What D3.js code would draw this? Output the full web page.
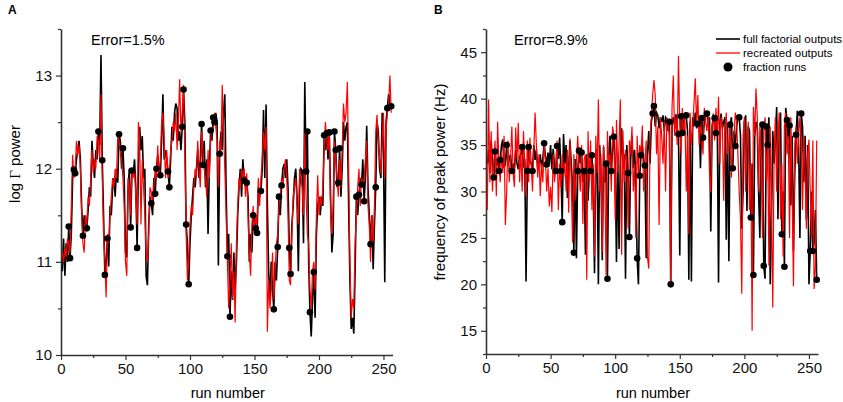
<!DOCTYPE html>
<html>
<head>
<meta charset="utf-8">
<script src="https://cdn.jsdelivr.net/npm/d3@7"></script>
<style>
  body { margin: 0; background: #fff; }
  text { font-family: "Liberation Sans", Arial, sans-serif; }
</style>
</head>
<body>
<div id="content"></div>
<script>
// Panel A: log Gamma power, full factorial (black) and recreated (red), runs 1..256.
var fullA = [
  10.90, 11.25, 10.85, 11.20, 11.00, 11.38, 11.04, 11.30, 11.90, 11.99, 11.95, 12.10, 12.20, 12.30, 12.10, 11.60,
  11.28, 11.50, 11.40, 11.36, 11.55, 11.80, 11.70, 12.30, 12.05, 11.90, 12.20, 12.10, 12.40, 12.25, 13.22, 12.09,
  11.50, 10.86, 11.00, 11.25, 10.95, 11.60, 11.50, 11.80, 11.90, 11.70, 12.00, 11.85, 12.37, 12.30, 12.00, 12.22,
  11.90, 11.10, 11.05, 11.80, 12.00, 11.37, 11.98, 11.95, 12.10, 11.80, 11.15, 12.00, 12.45, 12.20, 12.35, 11.90,
  12.00, 10.85, 10.75, 11.40, 11.70, 11.63, 11.50, 11.90, 11.73, 12.00, 12.15, 12.00, 11.93, 12.30, 12.80, 12.10,
  12.20, 12.10, 11.97, 11.80, 12.10, 12.45, 12.30, 12.60, 12.70, 12.65, 12.30, 12.40, 12.20, 12.45, 12.85, 12.50,
  11.40, 11.20, 10.76, 11.20, 11.50, 11.70, 11.90, 11.80, 12.00, 12.20, 11.90, 12.10, 12.48, 12.04, 12.30, 11.80,
  12.10, 11.30, 12.00, 12.41, 12.30, 12.55, 12.50, 12.60, 12.50, 10.96, 12.16, 12.40, 12.20, 12.60, 12.80, 11.80,
  11.06, 11.30, 10.41, 10.90, 10.59, 11.10, 10.70, 11.00, 11.50, 11.80, 12.00, 11.70, 12.10, 11.87, 11.90, 11.85,
  11.70, 11.00, 11.30, 11.10, 11.50, 11.45, 11.36, 11.31, 11.80, 11.70, 11.76, 12.00, 12.63, 11.90, 12.69, 11.60,
  10.90, 10.60, 11.00, 10.70, 10.49, 11.00, 10.80, 11.16, 11.70, 11.50, 11.82, 12.00, 12.05, 11.90, 12.10, 11.80,
  11.15, 10.87, 11.40, 11.60, 11.90, 12.00, 11.70, 10.90, 11.80, 12.00, 11.98, 11.20, 12.93, 11.97, 12.40, 11.00,
  10.46, 10.20, 10.60, 10.89, 10.40, 11.30, 11.60, 11.70, 11.50, 11.70, 11.60, 12.36, 12.20, 12.38, 12.10, 12.39,
  11.70, 11.10, 11.30, 12.40, 12.20, 11.80, 11.85, 12.22, 11.70, 12.00, 12.50, 12.30, 12.45, 12.50, 11.60, 10.80,
  10.28, 10.40, 10.23, 10.90, 11.70, 11.50, 11.72, 11.90, 11.83, 12.10, 11.65, 11.90, 12.46, 11.80, 11.50, 11.19,
  11.50, 10.92, 11.40, 11.80, 12.50, 12.40, 12.00, 11.90, 12.60, 12.20, 10.78, 12.50, 12.65, 12.80, 12.70, 12.67
];
var recA = [
  11.10, 11.00, 11.15, 11.05, 11.25, 11.20, 11.10, 11.60, 12.15, 11.90, 12.00, 12.30, 12.15, 12.25, 12.00, 11.50,
  11.20, 11.10, 11.50, 11.40, 11.70, 11.60, 11.90, 12.20, 11.95, 12.10, 12.00, 12.35, 12.30, 12.10, 12.80, 11.90,
  11.30, 11.00, 10.62, 11.30, 11.20, 11.50, 11.70, 11.90, 11.80, 12.00, 11.90, 12.35, 12.30, 12.20, 12.10, 11.90,
  11.60, 11.00, 10.85, 11.90, 11.80, 11.50, 12.00, 11.90, 12.00, 11.70, 11.40, 12.50, 12.30, 11.40, 12.10, 11.80,
  11.50, 11.10, 11.00, 11.30, 11.80, 11.75, 11.60, 11.80, 12.00, 11.90, 12.25, 11.90, 12.10, 12.50, 12.60, 12.30,
  11.90, 12.20, 11.90, 11.95, 12.20, 12.30, 12.50, 12.40, 12.60, 12.20, 12.50, 12.96, 12.40, 12.60, 12.90, 12.20,
  11.30, 10.80, 11.00, 11.40, 11.60, 11.50, 11.80, 12.00, 11.90, 12.30, 12.00, 11.80, 12.40, 12.20, 12.00, 11.90,
  11.70, 12.20, 11.90, 12.30, 12.45, 12.40, 12.60, 12.45, 12.30, 11.80, 12.30, 12.20, 12.90, 12.40, 12.00, 11.50,
  11.00, 10.50, 10.80, 11.20, 10.60, 10.90, 10.35, 11.20, 11.60, 11.90, 11.80, 12.00, 11.90, 12.00, 11.70, 11.95,
  11.50, 11.10, 10.85, 11.40, 11.60, 11.30, 11.50, 11.40, 11.90, 11.60, 11.90, 12.10, 12.40, 12.20, 12.45, 10.25,
  10.80, 10.50, 10.70, 11.10, 10.60, 10.90, 11.20, 11.30, 11.60, 11.70, 11.90, 11.80, 12.00, 12.10, 11.90, 11.50,
  10.80, 10.75, 11.30, 11.70, 11.80, 11.90, 11.60, 11.40, 12.00, 11.90, 11.80, 11.50, 12.40, 11.70, 11.30, 11.20,
  10.70, 10.50, 10.90, 11.00, 10.70, 11.50, 11.93, 11.50, 11.70, 11.60, 11.80, 12.20, 12.50, 12.30, 12.20, 12.40,
  11.50, 11.30, 11.60, 12.30, 12.10, 11.90, 11.70, 12.10, 11.80, 12.20, 12.70, 12.50, 12.60, 12.93, 12.00, 11.00,
  10.40, 10.60, 10.50, 11.20, 11.50, 11.80, 12.00, 11.60, 11.90, 11.80, 11.90, 12.10, 12.30, 11.60, 11.40, 11.00,
  11.50, 11.20, 11.60, 12.40, 12.58, 12.30, 12.10, 11.95, 12.30, 12.60, 11.90, 12.40, 12.60, 12.70, 13.00, 12.60
];
var fractionRunsA = [6, 7, 10, 11, 17, 20, 29, 32, 34, 36, 45, 48, 54, 55, 59, 70, 73, 74, 77, 83, 84, 94, 95,
  97, 99, 109, 110, 116, 118, 119, 123, 129, 131, 142, 144, 149, 151, 152, 155, 165, 168, 169, 171, 177, 178,
  190, 191, 193, 196, 204, 206, 208, 212, 213, 215, 216, 229, 231, 233, 235, 240, 244, 253, 256];

// Panel B: frequency of peak power (Hz).
var fullB = [
  33.0, 34.5, 32.0, 35.5, 33.2, 31.5, 34.3, 32.8, 33.5, 32.2, 33.4, 35.0, 35.6, 32.5, 33.0, 35.0,
  32.8, 33.5, 34.0, 32.2, 33.0, 32.5, 34.5, 33.0, 32.4, 33.8, 34.0, 34.8, 32.6, 33.5, 20.3, 32.2,
  34.8, 33.2, 33.0, 32.2, 35.0, 33.4, 34.5, 32.5, 33.0, 34.0, 32.6, 33.5, 35.2, 33.8, 32.9, 34.2,
  33.0, 35.0, 32.4, 34.6, 32.8, 32.2, 34.9, 33.5, 35.8, 32.2, 26.7, 36.2, 33.0, 35.0, 29.3, 32.5,
  35.5, 33.0, 30.5, 23.4, 33.5, 22.8, 32.2, 34.4, 33.0, 34.2, 31.0, 32.2, 23.2, 34.0, 29.0, 32.5,
  32.2, 33.9, 30.0, 21.2, 34.5, 33.0, 20.0, 35.0, 32.0, 22.6, 34.8, 31.0, 33.0, 20.6, 33.5, 36.0,
  32.2, 34.5, 35.9, 33.0, 22.4, 34.0, 23.8, 33.5, 36.8, 32.5, 34.0, 20.6, 35.0, 32.0, 25.1, 33.5,
  36.0, 32.5, 34.5, 31.0, 22.8, 20.0, 31.7, 33.9, 35.0, 33.5, 32.8, 22.8, 34.0, 36.5, 33.0, 37.5,
  38.4, 39.2, 37.0, 38.5, 38.2, 36.8, 38.0, 37.5, 38.2, 36.5, 38.0, 37.8, 36.5, 37.5, 20.0, 37.0,
  38.0, 37.2, 38.3, 36.8, 36.2, 23.1, 38.1, 36.3, 37.6, 38.0, 38.2, 36.5, 20.5, 37.5, 20.3, 38.0,
  37.0, 38.5, 36.8, 37.3, 38.0, 32.5, 37.9, 35.8, 37.5, 38.2, 38.4, 37.0, 38.0, 25.7, 37.0, 38.2,
  37.9, 36.3, 38.0, 20.2, 37.5, 38.4, 36.8, 37.5, 38.0, 24.8, 37.0, 22.5, 37.2, 38.0, 32.5, 36.5,
  34.9, 37.0, 38.0, 38.0, 36.0, 26.0, 30.0, 37.5, 38.2, 27.9, 37.0, 36.5, 27.2, 33.0, 21.0, 36.0,
  37.5, 37.0, 30.0, 25.0, 36.5, 37.2, 22.0, 20.6, 37.0, 35.0, 38.0, 20.0, 27.0, 36.5, 33.0, 35.5,
  39.1, 27.0, 37.0, 38.5, 25.4, 30.0, 21.9, 39.0, 37.7, 35.5, 37.1, 28.5, 36.0, 23.6, 32.0, 36.1,
  38.7, 35.0, 25.0, 38.4, 37.0, 31.0, 36.0, 27.0, 35.0, 20.0, 23.6, 30.0, 23.6, 24.5, 28.0, 20.5
];
var recB = [
  28.0, 39.9, 31.0, 36.5, 30.0, 33.0, 35.5, 29.5, 37.5, 33.0, 31.0, 34.0, 32.0, 36.0, 26.4, 30.0,
  35.5, 31.0, 33.5, 37.0, 32.0, 30.5, 36.9, 33.5, 37.4, 31.0, 34.5, 30.0, 36.5, 33.0, 29.5, 35.5,
  31.0, 35.8, 33.0, 30.0, 34.5, 38.5, 35.0, 31.5, 34.0, 29.5, 33.0, 31.0, 35.0, 33.5, 30.0, 32.5,
  28.4, 30.5, 27.8, 34.0, 31.0, 32.5, 35.5, 28.0, 33.0, 30.5, 34.0, 31.5, 33.2, 30.0, 34.5, 27.7,
  35.7, 31.0, 24.5, 34.0, 29.0, 33.0, 36.0, 32.5, 30.0, 35.0, 26.5, 33.5, 34.0, 20.5, 36.5, 31.0,
  35.5, 28.0, 33.0, 23.0, 36.0, 32.0, 39.9, 30.0, 34.0, 23.4, 35.0, 31.0, 21.0, 36.5, 33.0, 34.0,
  30.0, 37.0, 36.0, 27.0, 37.7, 32.0, 35.0, 39.9, 23.2, 36.6, 31.0, 34.5, 33.0, 26.0, 35.5, 34.0,
  37.0, 30.0, 33.0, 25.0, 36.0, 32.0, 35.0, 34.0, 37.1, 30.0, 33.0, 35.5, 22.9, 21.7, 36.0, 38.0,
  40.4, 42.0, 40.4, 34.0, 37.0, 26.4, 38.0, 36.0, 33.0, 37.5, 30.0, 38.0, 37.0, 36.0, 20.0, 39.0,
  42.5, 36.0, 38.0, 35.0, 44.6, 37.0, 34.0, 39.0, 36.0, 38.0, 30.0, 36.0, 25.4, 38.5, 35.0, 37.0,
  39.5, 42.2, 37.0, 40.4, 35.0, 38.0, 36.0, 34.0, 39.0, 37.5, 36.5, 38.5, 32.0, 29.9, 37.0, 38.0,
  35.5, 39.0, 36.0, 40.2, 33.0, 38.0, 37.0, 29.0, 36.5, 38.5, 34.0, 35.0, 37.0, 31.5, 35.0, 36.0,
  38.5, 37.5, 34.0, 30.0, 27.0, 19.0, 36.0, 38.0, 30.0, 35.0, 37.5, 28.0, 33.0, 15.0, 39.1, 36.0,
  41.1, 38.0, 30.0, 37.0, 33.0, 25.0, 36.5, 38.0, 31.0, 35.0, 22.0, 37.0, 28.0, 17.5, 34.0, 38.0,
  30.0, 36.0, 38.5, 27.0, 33.0, 23.0, 37.0, 38.5, 34.0, 36.0, 25.0, 38.0, 30.0, 19.8, 35.0, 37.0,
  33.0, 36.0, 38.0, 35.8, 28.0, 36.0, 32.0, 26.0, 34.0, 35.6, 30.0, 25.0, 35.5, 19.5, 22.0, 35.5
];
var fractionRunsB = [6, 7, 10, 11, 16, 20, 28, 32, 33, 36, 45, 47, 54, 55, 58, 59, 68, 71, 72, 74, 76, 81, 82,
  93, 94, 97, 99, 110, 111, 117, 119, 120, 123, 129, 130, 142, 143, 149, 151, 152, 155, 164, 167, 168, 171,
  177, 178, 189, 191, 193, 196, 205, 207, 214, 215, 217, 218, 229, 231, 233, 235, 240, 244, 251, 253, 256];

// Tick labels.
var xTicks = [0, 50, 100, 150, 200, 250];
var xMinor = [25, 75, 125, 175, 225];
var yTicksA = [10, 11, 12, 13];
var yMinorA = [10.5, 11.5, 12.5, 13.5];
var yTicksB = [15, 20, 25, 30, 35, 40, 45];
var yMinorB = [12.5, 17.5, 22.5, 27.5, 32.5, 37.5, 42.5, 47.5];
var legendLabels = ['full factorial outputs', 'recreated outputs', 'fraction runs'];

var svg = d3.select('#content')
              .append('svg')
              .attr('width', 843)
              .attr('height', 402);

var axisColor = '#333';

function drawPanel(p) {
  var x = d3.scaleLinear().domain([0, 257]).range([p.left, p.right]);
  var y = d3.scaleLinear().domain(p.yDomain).range([p.bottom, 29]);

  // Axes, major then minor ticks.
  var gx = svg.append('g').attr('transform', 'translate(0,' + p.bottom + ')')
      .call(d3.axisBottom(x).tickValues(xTicks).tickSize(5).tickPadding(3).tickSizeOuter(0));
  var gxm = svg.append('g').attr('transform', 'translate(0,' + p.bottom + ')')
      .call(d3.axisBottom(x).tickValues(xMinor).tickSize(3).tickFormat(''));
  var gy = svg.append('g').attr('transform', 'translate(' + p.left + ',0)')
      .call(d3.axisLeft(y).tickValues(p.yTicks).tickFormat(d3.format('d'))
                .tickSize(5).tickPadding(4).tickSizeOuter(0));
  var gym = svg.append('g').attr('transform', 'translate(' + p.left + ',0)')
      .call(d3.axisLeft(y).tickValues(p.yMinor).tickSize(3).tickFormat(''));
  gxm.select('.domain').remove();
  gym.select('.domain').remove();
  [gx, gxm, gy, gym].forEach(function(g) {
    g.select('.domain').attr('stroke', axisColor).attr('stroke-width', 1.6);
    g.selectAll('.tick line').attr('stroke', axisColor).attr('stroke-width', 1.2);
    g.selectAll('.tick text').attr('font-size', 15).attr('fill', '#111')
        .attr('font-family', '"Liberation Sans", Arial, sans-serif');
  });

  var line = function(vals) {
    return d3.line()
        .x(function(d, i) { return x(i + 1); })
        .y(function(d) { return y(d); })(vals);
  };

  svg.append('path').attr('d', line(p.full))
      .attr('fill', 'none').attr('stroke', '#000').attr('stroke-width', 1.6);
  svg.append('path').attr('d', line(p.rec))
      .attr('fill', 'none').attr('stroke', '#ff0000').attr('stroke-width', 1.2);

  svg.append('g').selectAll('circle')
      .data(p.dots)
      .enter()
      .append('circle')
      .attr('cx', function(r) { return x(r); })
      .attr('cy', function(r) { return y(p.full[r - 1]); })
      .attr('r', 3.3)
      .attr('fill', '#000');

  // Labels.
  svg.append('text').attr('x', p.letterX).attr('y', 14)
      .attr('font-size', 12).attr('font-weight', 'bold').text(p.letter);
  svg.append('text').attr('x', p.errorX).attr('y', 45)
      .attr('font-size', 14.5).text(p.error);
  svg.append('text').attr('x', (p.left + p.right) / 2 + 1).attr('y', 398)
      .attr('text-anchor', 'middle').attr('font-size', 14.5).text('run number');

  var yl = svg.append('text')
      .attr('transform', 'translate(' + p.yLabelX + ',' + p.yLabelY + ') rotate(-90)')
      .attr('text-anchor', 'middle').attr('font-size', 15);
  p.yLabel.forEach(function(part) {
    var t = yl.append('tspan').text(part.t);
    if (part.serif) t.attr('font-family', '"Liberation Serif", "Times New Roman", serif');
  });
}

drawPanel({
  left: 61, right: 392.5, bottom: 355, yDomain: [10, 13.5],
  yTicks: yTicksA, yMinor: yMinorA,
  full: fullA, rec: recA, dots: fractionRunsA,
  letter: 'A', letterX: 8, error: 'Error=1.5%', errorX: 91,
  yLabel: [{t: 'log '}, {t: '\u0393', serif: true}, {t: ' power'}],
  yLabelX: 20, yLabelY: 164
});

drawPanel({
  left: 486, right: 818, bottom: 354, yDomain: [12.5, 47.5],
  yTicks: yTicksB, yMinor: yMinorB,
  full: fullB, rec: recB, dots: fractionRunsB,
  letter: 'B', letterX: 434, error: 'Error=8.9%', errorX: 514,
  yLabel: [{t: 'frequency of peak power (Hz)'}],
  yLabelX: 445, yLabelY: 182
});

// Legend (panel B).
var legend = svg.append('g');
var legendRows = [39, 53, 67];
legend.append('line').attr('x1', 716).attr('x2', 740).attr('y1', legendRows[0]).attr('y2', legendRows[0])
    .attr('stroke', '#000').attr('stroke-width', 1.6);
legend.append('line').attr('x1', 716).attr('x2', 740).attr('y1', legendRows[1]).attr('y2', legendRows[1])
    .attr('stroke', '#ff0000').attr('stroke-width', 1.3);
legend.append('circle').attr('cx', 728).attr('cy', legendRows[2]).attr('r', 4.5).attr('fill', '#000');
legend.selectAll('text')
    .data(legendLabels)
    .enter()
    .append('text')
    .attr('x', 743)
    .attr('y', function(d, i) { return legendRows[i] + 4; })
    .attr('font-size', 11.5)
    .text(function(d) { return d; });
</script>
</body>
</html>
